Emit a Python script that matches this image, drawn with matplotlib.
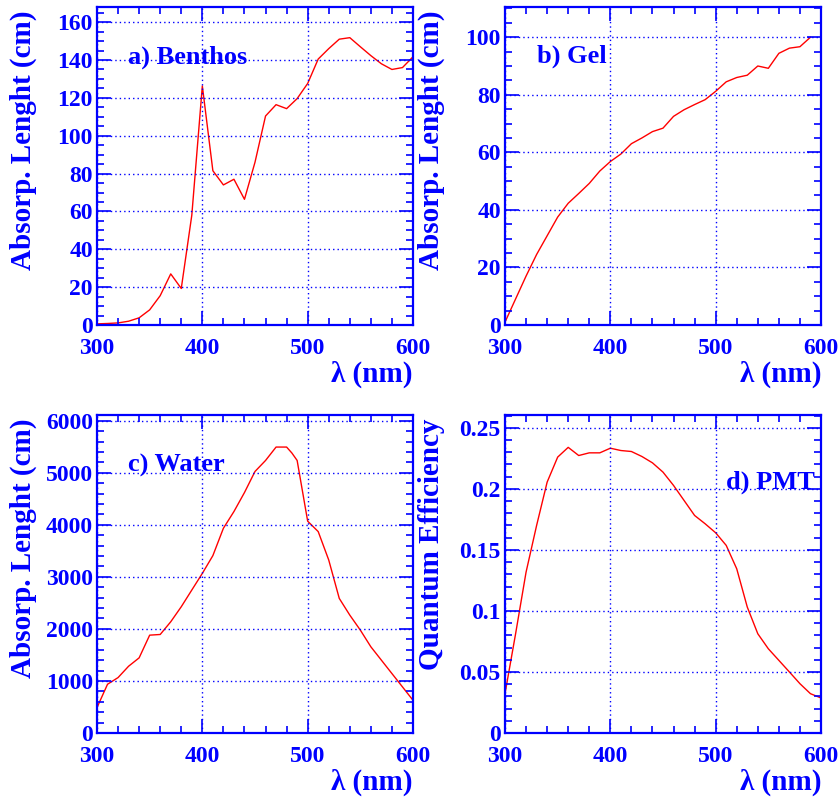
import matplotlib
matplotlib.use("Agg")
import matplotlib.pyplot as plt
from matplotlib.ticker import MultipleLocator, FuncFormatter

# ---------------- data ----------------
wl_benthos = [300, 310, 320, 330, 340, 350, 360, 370, 380, 390, 400, 410, 420, 430, 440,
              450, 460, 470, 480, 490, 500, 510, 520, 530, 540, 550, 560, 570, 580, 590, 600]
absl_benthos = [0.6, 0.8, 1.1, 2.0, 3.8, 8.0, 15.5, 27.0, 19.3, 58.0, 126.3, 81.5, 74.0, 77.0, 66.4,
                86.0, 110.4, 116.4, 114.3, 119.6, 127.6, 140.5, 146.0, 151.0, 151.8, 147.0,
                142.3, 138.0, 135.0, 136.0, 141.7]

wl_gel = [300, 310, 320, 330, 340, 350, 360, 370, 380, 390, 400, 410, 420, 430, 440, 450,
          460, 470, 480, 490, 500, 510, 520, 530, 540, 550, 560, 570, 580, 590]
absl_gel = [1.0, 9.0, 17.0, 24.5, 31.0, 37.5, 42.3, 45.7, 49.2, 53.5, 56.8, 59.4, 63.0, 65.0,
            67.2, 68.4, 72.5, 74.8, 76.6, 78.3, 81.2, 84.5, 86.0, 86.8, 90.0, 89.2, 94.4,
            96.2, 96.7, 100.0]

wl_water = [300, 310, 320, 330, 340, 350, 360, 370, 380, 390, 400, 410, 420, 430, 440, 450,
            460, 470, 480, 485, 490, 500, 510, 520, 530, 540, 550, 560, 570, 580, 590, 600]
absl_water = [488, 937, 1065, 1283, 1444, 1880, 1893, 2137, 2426, 2747, 3067, 3408, 3934,
              4255, 4620, 5025, 5236, 5494, 5494, 5380, 5237, 4070, 3870, 3324, 2586, 2265,
              1977, 1656, 1399, 1142, 886, 629]

wl_pmt = [300, 310, 320, 330, 340, 350, 360, 370, 380, 390, 400, 410, 420, 430, 440, 450,
          460, 470, 480, 490, 500, 510, 520, 530, 540, 550, 560, 570, 580, 590, 600]
qe_pmt = [0.0322, 0.081, 0.1318, 0.170, 0.2055, 0.226, 0.234, 0.2273, 0.2295, 0.2295,
          0.2333, 0.2314, 0.2306, 0.2265, 0.2213, 0.2137, 0.2028, 0.1905, 0.1782, 0.1714,
          0.164, 0.1537, 0.1345, 0.1032, 0.0813, 0.069, 0.0595, 0.050, 0.0404, 0.0322, 0.0287]

panel_labels = ["a) Benthos", "b) Gel", "c) Water", "d) PMT"]
y_titles = ["Absorp. Lenght (cm)", "Absorp. Lenght (cm)", "Absorp. Lenght (cm)", "Quantum Efficiency"]
x_title = "λ (nm)"

# ---------------- style ----------------
BLUE = "#0000ff"
RED = "#ff0000"
FONT = "Liberation Serif"

fig = plt.figure(figsize=(8.39, 7.98), dpi=100)

W, H = 839.0, 798.0
ax_w = 316 / W
ax_h = 318 / H
lefts = [97 / W, 505 / W]
bottoms = [1 - 325 / H, 1 - 733 / H]

specs = [
    dict(x=wl_benthos, y=absl_benthos, ymax=168, major=20, minor=5, pos=(0, 0), lab=(0.098, 0.821)),
    dict(x=wl_gel, y=absl_gel, ymax=110.5, major=20, minor=5, pos=(1, 0), lab=(0.101, 0.824)),
    dict(x=wl_water, y=absl_water, ymax=6110, major=1000, minor=200, pos=(0, 1), lab=(0.098, 0.822)),
    dict(x=wl_pmt, y=qe_pmt, ymax=0.2605, major=0.05, minor=0.01, pos=(1, 1), lab=(0.699, 0.769)),
]

fmt = FuncFormatter(lambda v, p: ("%g" % round(v, 6)))

for i, s in enumerate(specs):
    cx, cy = s["pos"]
    ax = fig.add_axes([lefts[cx], bottoms[cy], ax_w, ax_h])
    ax.plot(s["x"], s["y"], color=RED, lw=1.0)
    ax.set_xlim(300, 600)
    ax.set_ylim(0, s["ymax"])
    ax.xaxis.set_major_locator(MultipleLocator(100))
    ax.xaxis.set_minor_locator(MultipleLocator(20))
    ax.yaxis.set_major_locator(MultipleLocator(s["major"]))
    ax.yaxis.set_minor_locator(MultipleLocator(s["minor"]))
    ax.yaxis.set_major_formatter(fmt)
    ax.xaxis.set_major_formatter(fmt)
    ax.grid(True, which="major", color=BLUE, linestyle=(0, (1, 2.2)), lw=1.0)
    for sp in ax.spines.values():
        sp.set_color(BLUE)
        sp.set_linewidth(1.6)
    ax.tick_params(which="both", direction="in", top=True, right=True, color=BLUE, width=1.2)
    ax.tick_params(which="major", length=10)
    ax.tick_params(which="minor", length=5)
    ax.tick_params(axis="x", which="major", pad=9)
    ax.tick_params(axis="y", which="major", pad=3)
    for lbl in ax.get_xticklabels() + ax.get_yticklabels():
        lbl.set_fontfamily(FONT)
        lbl.set_fontweight("bold")
        lbl.set_fontsize(17)
        lbl.set_color(BLUE)
    ax.set_xlabel(x_title, fontfamily=FONT, fontweight="bold", fontsize=21, color=BLUE, ha="right")
    ax.xaxis.set_label_coords(1.0, -0.112)
    ax.set_ylabel(y_titles[i], fontfamily=FONT, fontweight="bold", fontsize=21, color=BLUE, ha="right")
    ax.yaxis.set_label_coords(-0.19, 0.99)
    ax.text(s["lab"][0], s["lab"][1], panel_labels[i], transform=ax.transAxes,
            fontfamily=FONT, fontweight="bold", fontsize=19, color=BLUE, ha="left", va="baseline")
    ax.set_axisbelow(False)

fig.savefig("out.png", dpi=100)
